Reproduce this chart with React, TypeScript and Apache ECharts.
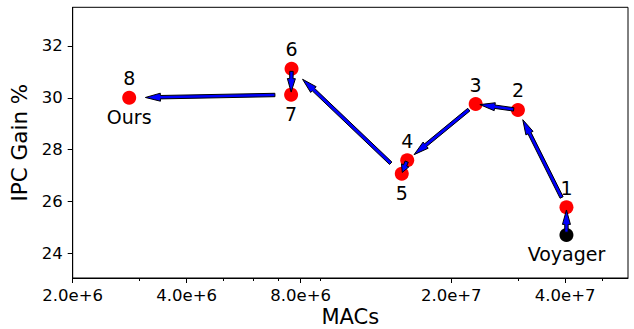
import React, { useEffect, useRef } from "react";
import * as echarts from "echarts";

// ---- data ----
const pointNames = ["Voyager", "1", "2", "3", "4", "5", "6", "7", "8"];
const macs = [4.03e7, 4.03e7, 3.0e7, 2.32e7, 1.53e7, 1.48e7, 7.57e6, 7.55e6, 2.82e6];
const ipcGain = [24.71, 25.78, 29.53, 29.76, 27.59, 27.07, 31.12, 30.12, 30.0];
const labelAbove = ["", "1", "2", "3", "4", "", "6", "", "8"];
const labelBelow = ["Voyager", "", "", "", "", "5", "", "7", "Ours"];
const pointColors = ["#000000", "#ff0000", "#ff0000", "#ff0000", "#ff0000", "#ff0000", "#ff0000", "#ff0000", "#ff0000"];

const xTickValues = [2e6, 4e6, 8e6, 2e7, 4e7];
const xTickLabels = ["2.0e+6", "4.0e+6", "8.0e+6", "2.0e+7", "4.0e+7"];
const xMinorTicks = [3e6, 5e6, 6e6, 7e6, 9e6, 3e7, 5e7];
const yTickValues = [24, 26, 28, 30, 32];
const xRange = [2e6, 5.86e7];
const yRange = [23.05, 33.49];

const FONT = "DejaVu Sans";
const lg = (v: number) => Math.log10(v);

export default function App() {
  const ref = useRef<HTMLDivElement>(null);
  useEffect(() => {
    if (!ref.current) return;
    const chart = echarts.init(ref.current, undefined, { renderer: "svg" });

    const pts = macs.map((m, i) => ({
      value: [lg(m), ipcGain[i]],
      name: pointNames[i],
      itemStyle: { color: pointColors[i], opacity: 1 },
    }));
    const arrows = macs.slice(0, -1).map((m, i) => [lg(m), ipcGain[i], lg(macs[i + 1]), ipcGain[i + 1]]);

    const xFmt = (v: number) => {
      const idx = xTickValues.findIndex((t) => Math.abs(lg(t) - v) < 1e-6);
      return idx >= 0 ? xTickLabels[idx] : "";
    };

    const shrink = 0.1;
    const renderArrow = (params: any, api: any) => {
      const p1 = api.coord([api.value(0), api.value(1)]);
      const p2 = api.coord([api.value(2), api.value(3)]);
      const dx = p2[0] - p1[0];
      const dy = p2[1] - p1[1];
      const L = Math.sqrt(dx * dx + dy * dy);
      const ux = dx / L, uy = dy / L;
      const nx = -uy, ny = ux;
      const s = [p1[0] + ux * L * shrink, p1[1] + uy * L * shrink];
      const e = [p2[0] - ux * L * shrink, p2[1] - uy * L * shrink];
      const len = L * (1 - 2 * shrink);
      const hl = Math.min(15, len * 0.65);
      const hw = 8;
      const w = 3.4;
      const b = [e[0] - ux * hl, e[1] - uy * hl];
      const poly = [
        [s[0] + nx * w / 2, s[1] + ny * w / 2],
        [b[0] + nx * w / 2, b[1] + ny * w / 2],
        [b[0] + nx * hw / 2, b[1] + ny * hw / 2],
        [e[0], e[1]],
        [b[0] - nx * hw / 2, b[1] - ny * hw / 2],
        [b[0] - nx * w / 2, b[1] - ny * w / 2],
        [s[0] - nx * w / 2, s[1] - ny * w / 2],
      ];
      return {
        type: "polygon",
        shape: { points: poly },
        style: { fill: "#0000ff", stroke: "#000000", lineWidth: 1 },
      };
    };

    const textStyle = { fontFamily: FONT, color: "#000" };

    chart.setOption({
      animation: false,
      backgroundColor: "#ffffff",
      textStyle: { fontFamily: FONT },
      grid: {
        left: 72.7,
        top: 7.3,
        right: 6,
        bottom: 51,
        outerBoundsMode: "none",
        containLabel: false,
        show: true,
        borderColor: "#000",
        borderWidth: 1,
        backgroundColor: "transparent",
      },
      xAxis: [
        {
          type: "value",
          min: lg(xRange[0]),
          max: lg(xRange[1]),
          name: "MACs",
          nameLocation: "middle",
          nameMoveOverlap: false,
          nameGap: 28,
          nameTextStyle: { ...textStyle, fontSize: 21, lineHeight: 22 },
          axisLine: { show: true, lineStyle: { color: "#000", width: 1 } },
          axisTick: { show: true, length: 5, lineStyle: { color: "#000" }, customValues: xTickValues.map(lg) },
          axisLabel: { ...textStyle, fontSize: 16.5, margin: 9, customValues: xTickValues.map(lg), formatter: xFmt },
          splitLine: { show: false },
        },
        {
          type: "value",
          position: "bottom",
          min: lg(xRange[0]),
          max: lg(xRange[1]),
          axisLine: { show: false },
          axisTick: { show: true, length: 3, lineStyle: { color: "#000" }, customValues: xMinorTicks.map(lg) },
          axisLabel: { show: false },
          splitLine: { show: false },
        },
      ],
      yAxis: {
        type: "value",
        min: yRange[0],
        max: yRange[1],
        name: "IPC Gain %",
        nameLocation: "middle",
        nameGap: 35,
        nameTextStyle: { ...textStyle, fontSize: 21.5 },
        axisLine: { show: true, lineStyle: { color: "#000", width: 1 } },
        axisTick: { show: true, length: 5, lineStyle: { color: "#000" }, customValues: yTickValues },
        axisLabel: { ...textStyle, fontSize: 16.5, margin: 10, customValues: yTickValues, formatter: (v: number) => String(Math.round(v)) },
        splitLine: { show: false },
      },
      series: [
        {
          type: "scatter",
          xAxisIndex: 0,
          symbolSize: 14,
          data: pts,
          z: 2,
          itemStyle: { opacity: 1 },
          emphasis: { disabled: true },
          label: {
            show: true,
            position: "top",
            distance: 3,
            ...textStyle,
            opacity: 1,
            fontSize: 19,
            formatter: (p: any) => labelAbove[p.dataIndex],
          },
        },
        {
          type: "scatter",
          xAxisIndex: 0,
          symbolSize: 14,
          data: pts.map((p) => ({ value: p.value })),
          itemStyle: { color: "rgba(0,0,0,0)", opacity: 1 },
          emphasis: { disabled: true },
          z: 1,
          label: {
            show: true,
            position: "bottom",
            distance: 3,
            ...textStyle,
            opacity: 1,
            fontSize: 19,
            formatter: (p: any) => labelBelow[p.dataIndex],
          },
        },
        {
          type: "custom",
          xAxisIndex: 0,
          coordinateSystem: "cartesian2d",
          data: arrows,
          encode: { x: [0, 2], y: [1, 3] },
          renderItem: renderArrow,
          z: 5,
          clip: true,
        },
      ],
    });
    return () => chart.dispose();
  }, []);
  return <div ref={ref} style={{ position: "fixed", left: 0, top: 0, width: 634, height: 329 }} />;
}
